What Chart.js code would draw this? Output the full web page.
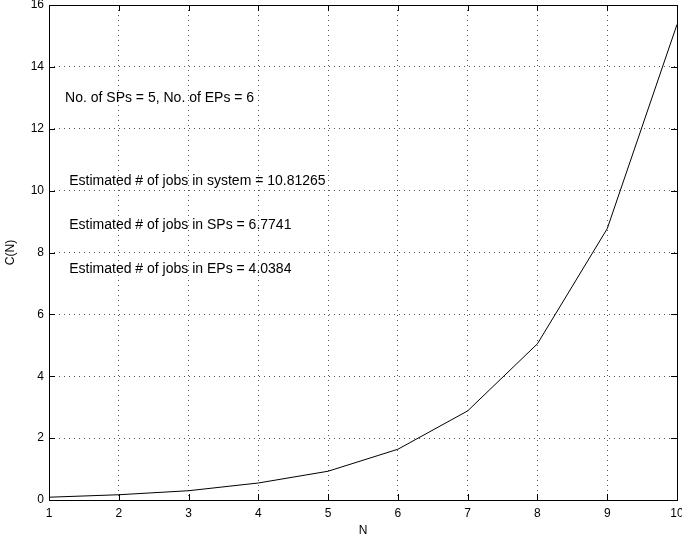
<!DOCTYPE html>
<html>
<head>
<meta charset="utf-8">
<script src="https://cdn.jsdelivr.net/npm/chart.js@4/dist/chart.umd.min.js"></script>
<style>
  html, body { margin: 0; padding: 0; background: #fff; }
  #wrap { width: 682px; height: 542px; }
</style>
</head>
<body>
<div id="wrap"><canvas id="cnChart" width="682" height="542"></canvas></div>
<script>
// values
const nValues = [1, 2, 3, 4, 5, 6, 7, 8, 9, 10];
const cValues = [0.09, 0.17, 0.30, 0.55, 0.93, 1.64, 2.88, 5.05, 8.77, 15.37];
const xTicks = [1, 2, 3, 4, 5, 6, 7, 8, 9, 10];
const yTicks = [0, 2, 4, 6, 8, 10, 12, 14, 16];

// text notes placed in data coordinates
const noteText = [
  'No. of SPs = 5, No. of EPs = 6',
  'Estimated # of jobs in system = 10.81265',
  'Estimated # of jobs in SPs = 6.7741',
  'Estimated # of jobs in EPs = 4.0384'
];
const noteX = [1.23, 1.29, 1.29, 1.29];
const noteY = [12.98, 10.3, 8.88, 7.46];

const FONT = 'Arial, "Liberation Sans", Helvetica, sans-serif';

// frame box + inward ticks on all four sides + text notes
const matlabFrame = {
  id: 'matlabFrame',
  afterDatasetsDraw(chart) {
    const { ctx, chartArea: a, scales } = chart;
    ctx.save();
    ctx.strokeStyle = '#000';
    ctx.lineWidth = 1;
    ctx.strokeRect(a.left + 0.5, a.top + 0.5, a.right - a.left, a.bottom - a.top);
    ctx.beginPath();
    xTicks.forEach(v => {
      const px = Math.round(scales.x.getPixelForValue(v)) + 0.5;
      ctx.moveTo(px, a.bottom); ctx.lineTo(px, a.bottom - 6);
      ctx.moveTo(px, a.top); ctx.lineTo(px, a.top + 6);
    });
    yTicks.forEach(v => {
      const py = Math.round(scales.y.getPixelForValue(v)) + 0.5;
      ctx.moveTo(a.left, py); ctx.lineTo(a.left + 6, py);
      ctx.moveTo(a.right, py); ctx.lineTo(a.right - 6, py);
    });
    ctx.stroke();

    ctx.fillStyle = '#000';
    ctx.font = '14px ' + FONT;
    ctx.textAlign = 'left';
    ctx.textBaseline = 'middle';
    noteText.forEach((t, i) => {
      ctx.fillText(t, scales.x.getPixelForValue(noteX[i]), scales.y.getPixelForValue(noteY[i]));
    });
    ctx.restore();
  }
};

const ctx = document.getElementById('cnChart');

new Chart(ctx, {
  type: 'line',
  data: {
    labels: nValues,
    datasets: [{
      data: nValues.map((n, i) => ({ x: n, y: cValues[i] })),
      borderColor: '#000',
      borderWidth: 1,
      pointRadius: 0,
      tension: 0,
      fill: false
    }]
  },
  options: {
    responsive: false,
    animation: false,
    devicePixelRatio: 1,
    layout: { padding: { top: 5, right: 5, left: 0, bottom: 0 } },
    plugins: { legend: { display: false }, tooltip: { enabled: false } },
    scales: {
      x: {
        type: 'linear',
        min: 1, max: 10,
        afterBuildTicks: s => { s.ticks = xTicks.map(v => ({ value: v })); },
        afterFit: s => { s.height = 42; s.paddingLeft = 0; s.paddingRight = 0; },
        grid: { color: '#555', lineWidth: 1, drawTicks: false },
        border: { display: false, dash: [1, 4] },
        ticks: { color: '#000', font: { size: 12, family: FONT }, padding: 6, maxRotation: 0 },
        title: { display: true, text: 'N', color: '#000', font: { size: 12, family: FONT }, padding: { top: 0, bottom: 4 } }
      },
      y: {
        type: 'linear',
        min: 0, max: 16,
        afterBuildTicks: s => { s.ticks = yTicks.map(v => ({ value: v })); },
        afterFit: s => { s.width = 49; s.paddingTop = 0; s.paddingBottom = 0; },
        grid: { color: '#555', lineWidth: 1, drawTicks: false },
        border: { display: false, dash: [1, 4] },
        ticks: { color: '#000', font: { size: 12, family: FONT }, padding: 5 },
        title: { display: true, text: 'C(N)', color: '#000', font: { size: 12, family: FONT }, padding: { top: 3, bottom: 0 } }
      }
    }
  },
  plugins: [matlabFrame]
});
</script>
</body>
</html>
